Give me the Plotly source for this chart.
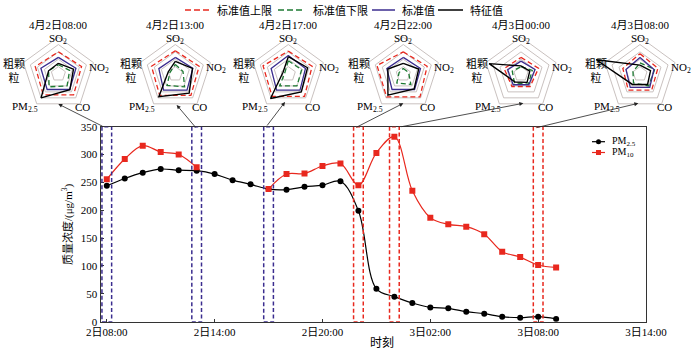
import plotly.graph_objects as go

W, H = 700, 350
FONT = "Liberation Serif, 'Noto Sans CJK SC', serif"


def px(x):
    return x / W


def py(y):
    return 1 - y / H


# ---------------- data ----------------
hours = list(range(8, 34))  # hours since 4月2日00:00
pm25 = [244, 257, 267.5, 274, 272, 271, 265, 254, 246.5, 238, 237, 242, 245, 252,
        199, 59, 45, 33.5, 25.7, 24, 18, 14.4, 9, 7.2, 9, 5]
pm10 = [255.5, 292, 316, 304.6, 300, 277, None, None, None, 238, 265, 266, 279.5, 284,
        245, 303, 332, 235, 186.7, 174.7, 170.6, 157, 125.7, 116, 101.7, 97.5]

x_tickvals = [8, 14, 20, 26, 32, 38]
x_ticktext = ["2日08:00", "2日14:00", "2日20:00", "3日02:00", "3日08:00", "3日14:00"]
y_tickvals = [0, 50, 100, 150, 200, 250, 300, 350]

box_hours = [8, 13, 17, 22, 24, 32]

radar_titles = ["4月2日08:00", "4月2日13:00", "4月2日17:00",
                "4月2日22:00", "4月3日00:00", "4月3日08:00"]
radar_axes = ["SO<sub>2</sub>", "NO<sub>2</sub>", "CO", "PM<sub>2.5</sub>", "粗颗<br>粒"]
# order: SO2, NO2, CO, PM2.5, 粗颗粒 (normalised radius)
upper = [[0.60, 0.66, 0.70, 0.70, 0.66],
         [0.63, 0.68, 0.72, 0.72, 0.68],
         [0.62, 0.68, 0.75, 0.75, 0.72],
         [0.60, 0.68, 0.77, 0.77, 0.75],
         [0.45, 0.50, 0.42, 0.42, 0.48],
         [0.55, 0.51, 0.54, 0.54, 0.49]]
lower = [[0.25, 0.32, 0.40, 0.43, 0.28],
         [0.26, 0.22, 0.43, 0.38, 0.15],
         [0.36, 0.38, 0.40, 0.40, 0.10],
         [0.15, 0.15, 0.35, 0.30, 0.12],
         [0.20, 0.32, 0.34, 0.30, 0.25],
         [0.30, 0.42, 0.40, 0.30, 0.20]]
standard = [[0.45, 0.50, 0.52, 0.52, 0.50],
            [0.45, 0.50, 0.54, 0.54, 0.47],
            [0.50, 0.49, 0.54, 0.54, 0.49],
            [0.45, 0.49, 0.52, 0.52, 0.47],
            [0.35, 0.40, 0.36, 0.36, 0.38],
            [0.45, 0.40, 0.45, 0.45, 0.40]]
feature = [[0.29, 0.43, 0.53, 0.80, 0.28],
           [0.34, 0.49, 0.64, 0.76, 0.20],
           [0.47, 0.55, 0.60, 0.82, 0.15],
           [0.29, 0.44, 0.50, 0.71, 0.44],
           [0.22, 0.25, 0.28, 0.27, 0.91],
           [0.24, 0.30, 0.35, 0.35, 1.25]]
ring_levels = [0.2, 0.4, 0.6, 0.8, 1.0]
legend_names = ["标准值上限", "标准值下限", "标准值", "特征值"]

# ---------------- style ----------------
RED = "#e8281e"
PURPLE = "#3b2d8f"
GREEN = "#1d7a32"
GREY = "#c9c1bf"
radar_cx = [58.4, 175.3, 288.3, 403.3, 521.0, 640.0]
radar_cy = 74.0
R1 = 31.5            # pixel radius of ring 1.0
RMAX = 1.3
half = R1 * RMAX * 1.17

fig = go.Figure()

# main chart
fig.add_trace(go.Scatter(x=hours, y=pm25, mode="lines+markers", name="PM2.5",
                         line=dict(color="black", width=1.2, shape="spline"),
                         marker=dict(symbol="circle", size=6, color="black"),
                         showlegend=False))
fig.add_trace(go.Scatter(x=hours, y=pm10, mode="lines+markers", name="PM10",
                         line=dict(color=RED, width=1.2, shape="spline"),
                         marker=dict(symbol="square", size=6, color=RED),
                         connectgaps=False, showlegend=False))

shapes = []
annotations = []
for i, t in enumerate(box_hours):
    col = PURPLE if i < 3 else RED
    shapes.append(dict(type="rect", xref="x", yref="y", x0=t - 0.27, x1=t + 0.27,
                       y0=0, y1=350, line=dict(color=col, width=1.5, dash="4px,2.5px"),
                       fillcolor="rgba(0,0,0,0)", layer="above"))

# radars
n = len(radar_axes)
theta = [90 - 72 * k for k in range(n)]
theta_c = theta + [theta[0]]
layout_polars = {}
for j in range(6):
    sub = "polar" if j == 0 else f"polar{j+1}"
    cx = radar_cx[j]
    for lv in ring_levels:
        fig.add_trace(go.Scatterpolar(r=[lv] * (n + 1), theta=theta_c, mode="lines",
                                      line=dict(color=GREY, width=1), subplot=sub,
                                      showlegend=False, hoverinfo="skip"))
    series = [(upper[j], RED, "5px,3px", 1.3),
              (lower[j], GREEN, "5px,3px", 1.3),
              (standard[j], PURPLE, "solid", 1.3),
              (feature[j], "black", "solid", 1.4)]
    for vals, col, dash, wd in series:
        fig.add_trace(go.Scatterpolar(r=list(vals) + [vals[0]], theta=theta_c, mode="lines",
                                      line=dict(color=col, width=wd, dash=dash),
                                      subplot=sub, showlegend=False))
    layout_polars[sub] = dict(
        domain=dict(x=[px(cx - half), px(cx + half)],
                    y=[py(radar_cy + half), py(radar_cy - half)]),
        bgcolor="rgba(0,0,0,0)",
        radialaxis=dict(range=[0, RMAX], autorange=False, visible=True, showline=False,
                        showgrid=False, showticklabels=False, ticks=""),
        angularaxis=dict(visible=True, showline=False, showgrid=False, showticklabels=False,
                         ticks="", rotation=0, direction="counterclockwise",
                         thetaunit="degrees"))
    # labels
    offs = [(0, -35), (40.6, -6), (24, 33), (-33, 33), (-44, -3)]
    for lab, (dx, dy) in zip(radar_axes, offs):
        annotations.append(dict(x=px(cx + dx), y=py(radar_cy + dy), xref="paper", yref="paper",
                                text=lab, showarrow=False, xanchor="center", yanchor="middle",
                                font=dict(size=11, color="black", family=FONT)))
    annotations.append(dict(x=px(cx), y=py(radar_cy - 49), xref="paper", yref="paper",
                            text=radar_titles[j], showarrow=False, xanchor="center",
                            yanchor="middle", font=dict(size=11, color="black", family=FONT)))

# arrows from boxes to radars (head, tail) in pixels
arrows = [((58.3, 104), (104, 127)), ((176.7, 105), (197, 129)), ((285, 102), (266, 127)),
          ((403.3, 103.3), (355, 128)), ((523.3, 103.3), (400, 127)), ((638.3, 103.3), (535, 128))]
for (hx, hy), (tx, ty) in arrows:
    annotations.append(dict(x=px(hx), y=py(hy), xref="paper", yref="paper", text="",
                            showarrow=True, ax=tx - hx, ay=ty - hy, axref="pixel", ayref="pixel",
                            arrowhead=2, arrowsize=1, arrowwidth=0.8, arrowcolor="#222",
                            standoff=0))

# top legend
leg = [(185, 210, RED, "6px,3px", 215), (278, 305, GREEN, "6px,3px", 311),
       (372, 395, PURPLE, "solid", 400), (438, 463, "black", "solid", 468)]
for (x0, x1, col, dash, tx), name in zip(leg, legend_names):
    shapes.append(dict(type="line", xref="paper", yref="paper", x0=px(x0), x1=px(x1),
                       y0=py(10), y1=py(10), line=dict(color=col, width=1.5, dash=dash)))
    annotations.append(dict(x=px(tx), y=py(10), xref="paper", yref="paper", text=name,
                            showarrow=False, xanchor="left", yanchor="middle",
                            font=dict(size=11, color="black", family=FONT)))

# main legend
for (yy, col, sym, name) in [(141.7, "black", "circle", "PM<sub>2.5</sub>"),
                             (152.5, RED, "square", "PM<sub>10</sub>")]:
    shapes.append(dict(type="line", xref="paper", yref="paper", x0=px(592), x1=px(605),
                       y0=py(yy), y1=py(yy), line=dict(color=col, width=1.2)))
    shapes.append(dict(type="circle" if sym == "circle" else "rect", xref="paper", yref="paper",
                       xsizemode="pixel", ysizemode="pixel", xanchor=px(598.5), yanchor=py(yy),
                       x0=-2.5, x1=2.5, y0=-2.5, y1=2.5, fillcolor=col, line=dict(color=col, width=0)))
    annotations.append(dict(x=px(610), y=py(yy), xref="paper", yref="paper", text=name,
                            showarrow=False, xanchor="left", yanchor="middle",
                            font=dict(size=10, color="black", family=FONT)))

# axis titles
annotations.append(dict(x=px(382), y=py(343), xref="paper", yref="paper", text="时刻",
                        showarrow=False, xanchor="center", yanchor="middle",
                        font=dict(size=12, color="black", family=FONT)))
annotations.append(dict(x=px(67), y=py(224), xref="paper", yref="paper",
                        text="质量浓度/(μg/m<sup>3</sup>)", textangle=-90,
                        showarrow=False, xanchor="center", yanchor="middle",
                        font=dict(size=11, color="black", family=FONT)))

fig.update_layout(
    width=W, height=H, margin=dict(l=0, r=0, t=0, b=0, pad=0, autoexpand=False),
    paper_bgcolor="white", plot_bgcolor="white",
    font=dict(family=FONT, size=11, color="black"),
    showlegend=False,
    xaxis=dict(domain=[px(100.5), px(646)], range=[7.65, 38], tickvals=x_tickvals,
               ticktext=x_ticktext, ticks="inside", ticklen=3, tickcolor="#333",
               showline=True, linecolor="#333", linewidth=1, mirror=True, automargin=False,
               showgrid=False, zeroline=False, tickfont=dict(size=11, family=FONT)),
    yaxis=dict(domain=[py(321.7), py(126.7)], range=[0, 350], tickvals=y_tickvals,
               ticks="inside", ticklen=3, tickcolor="#333", automargin=False,
               showline=True, linecolor="#333", linewidth=1, mirror=True,
               showgrid=False, zeroline=False, tickfont=dict(size=11, family=FONT)),
    shapes=shapes, annotations=annotations,
    **layout_polars,
)

fig.write_html("out.html")
